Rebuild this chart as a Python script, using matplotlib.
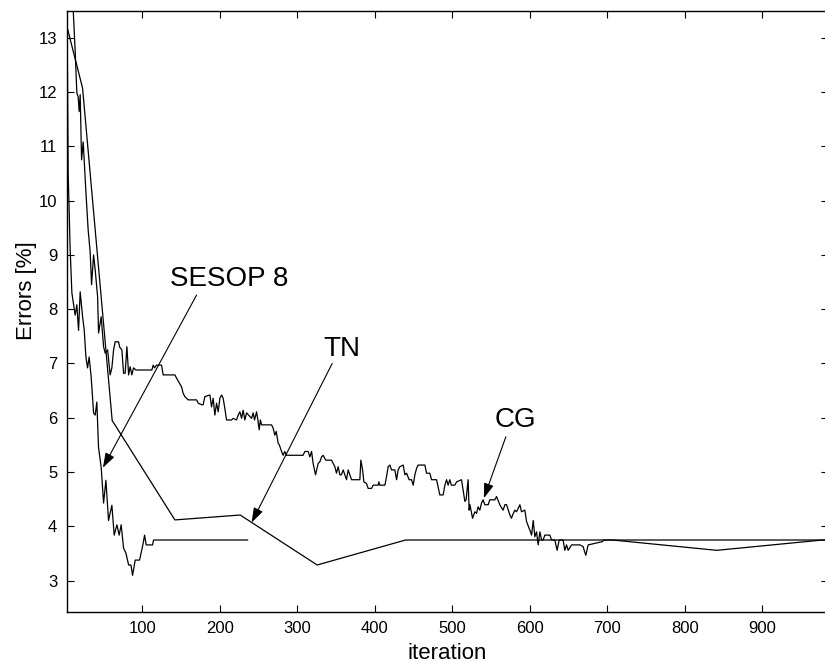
import matplotlib
matplotlib.use("Agg")
import matplotlib.pyplot as plt

plt.rcParams['font.family'] = ['Liberation Sans', 'DejaVu Sans']

# ---------------- data ----------------
sesop_x = [3, 4.5, 7.1, 9.3, 13.5, 15.7, 17.9, 20, 23.1, 25.2, 27.4, 29.5, 31.6, 34.2,
           37.3, 39.4, 41.5, 43.7, 47.1, 50.2, 53.2, 56.6, 60.9, 63.9, 67.4, 70.3, 72.9,
           76, 79, 82.5, 85.5, 87.6, 91, 96.6, 100.9, 103.1, 105.2, 108.3, 113.4, 114.7, 236]
sesop_y = [13.6, 10.5, 9.09, 8.30, 7.89, 8.08, 7.61, 8.32, 7.86, 7.62, 7.12, 6.92, 7.12, 6.75,
           6.09, 6.05, 6.29, 5.45, 5.09, 4.43, 4.85, 4.11, 4.39, 3.84, 4.03, 3.84, 4.03,
           3.60, 3.51, 3.29, 3.29, 3.10, 3.38, 3.38, 3.66, 3.84, 3.66, 3.66, 3.66, 3.75, 3.75]

tn_x = [3, 23.1, 61.3, 142.2, 226.5, 325.8, 439.9, 707, 841.5, 985]
tn_y = [13.2, 12.07, 5.95, 4.12, 4.21, 3.29, 3.75, 3.75, 3.56, 3.76]

cg_x = [10, 13.5, 15.7, 17.4, 18.7, 20, 21.8, 23.9, 27.4, 30.3, 32.9, 34.7, 37.3, 39.4,
        42.5, 43.7, 47.1, 50.2, 52.3, 55.4, 58.7, 60.9, 63.1, 65.2, 69.5, 71, 73.8, 76,
        78, 80.3, 82.5, 84.5, 86.7, 88.9, 91.9, 112.5, 114.2, 116, 118.6, 125, 127.1,
        142.2, 144.4, 150.8, 152.9, 155.1, 159.4, 170.2, 172.3, 176.6, 178.7, 180.9,
        187.4, 189.5, 191.6, 193.8, 196, 198.1, 200.3, 202.5, 204.5, 206.7, 208.9, 215.4,
        217.4, 221.8, 223.9, 226.1, 228.3, 230.3, 232.5, 234.7, 241.2, 243.2, 245, 247.6,
        249, 251, 252.5, 254.1, 267, 269, 271.2, 273, 275.5, 277, 279.9, 281.9, 284, 286,
        288.4, 307.7, 309.9, 314.2, 316.4, 318.6, 320.6, 323.7, 327.1, 329.3, 331.5, 333.5,
        336.9, 344.4, 348.6, 350.8, 352.9, 355.1, 357, 359.4, 361.5, 363.7, 365.8, 368,
        370.2, 380.9, 382.2, 384.4, 386.1, 389.5, 391.6, 396, 398.1, 404.5, 405.4, 406.7,
        413.2, 415.4, 417.4, 419.6, 421.8, 426.1, 428.3, 430.3, 432.5, 436.8, 439, 441.2,
        444.5, 447.6, 449.7, 451.9, 454.1, 456.1, 464.8, 467, 471.2, 473.4, 479.9, 481.9,
        484.1, 488.4, 490.6, 492.8, 494.8, 497, 499, 503.5, 505.7, 512.1, 514.2, 516.4,
        518, 520.6, 521.9, 523, 526.3, 529.3, 531.5, 533.5, 535.7, 537.9, 539.9, 542.2,
        546.5, 548.6, 555.1, 557.3, 559, 561.5, 563, 565.8, 568, 570.2, 574.5, 576.6, 578,
        580.9, 583, 585.2, 587.4, 589.5, 593.8, 596, 600.3, 602.5, 604.6, 606.7, 608.9,
        611, 613.2, 615.4, 617.4, 619.6, 626.1, 628.3, 632.5, 635.5, 638.1, 643.2, 645.4,
        647.6, 649.7, 654.1, 664.8, 669, 671, 672.5, 675.5, 694, 695.7, 985]
cg_y = [13.8, 12.77, 11.98, 11.91, 11.64, 11.95, 10.75, 11.08, 10.16, 9.46, 9.05, 8.45, 9.0, 8.72,
        8.23, 7.56, 7.86, 7.31, 7.19, 7.25, 6.79, 6.92, 7.25, 7.40, 7.40, 7.30, 7.25, 6.82,
        6.82, 7.31, 6.79, 6.94, 6.79, 6.92, 6.88, 6.88, 6.97, 6.92, 6.97, 6.97, 6.79,
        6.79, 6.73, 6.57, 6.45, 6.39, 6.33, 6.33, 6.27, 6.24, 6.24, 6.39,
        6.42, 6.20, 6.36, 6.05, 6.27, 6.11, 6.36, 6.42, 6.36, 6.17, 5.96, 5.96,
        5.99, 5.96, 6.05, 6.11, 5.99, 6.14, 5.96, 6.09, 5.99, 6.09, 5.96, 6.11,
        5.99, 5.78, 5.96, 5.87, 5.87, 5.81, 5.68, 5.75, 5.53, 5.50, 5.38, 5.31, 5.38, 5.31,
        5.31, 5.31, 5.38, 5.38, 5.28, 5.38, 5.16, 4.95, 5.16, 5.19, 5.28, 5.31,
        5.22, 5.22, 5.10, 4.98, 5.10, 4.95, 4.95, 5.04, 4.95, 4.86, 5.04, 4.95,
        4.86, 4.86, 5.22, 5.04, 4.82, 4.79, 4.70, 4.70, 4.76, 4.76, 4.82, 4.76,
        4.76, 4.92, 5.10, 5.13, 5.04, 5.04, 4.86, 5.04, 5.10, 5.13, 4.95, 4.98,
        4.86, 4.86, 4.76, 4.95, 5.07, 5.13, 5.13, 4.98, 4.98, 4.86, 4.86, 4.73,
        4.58, 4.58, 4.76, 4.86, 4.76, 4.86, 4.76, 4.76, 4.82, 4.86, 4.67, 4.46,
        4.49, 4.86, 4.30, 4.40, 4.15, 4.27, 4.24, 4.36, 4.30, 4.43, 4.49, 4.40,
        4.40, 4.49, 4.49, 4.55, 4.49, 4.40, 4.36, 4.30, 4.40, 4.40, 4.21, 4.15, 4.21,
        4.30, 4.27, 4.33, 4.40, 4.27, 4.30, 4.09, 3.93, 3.84, 4.11, 3.81, 3.90,
        3.66, 3.90, 3.75, 3.75, 3.84, 3.84, 3.75, 3.75, 3.56, 3.75, 3.75, 3.56,
        3.66, 3.56, 3.66, 3.66, 3.63, 3.53, 3.47, 3.66, 3.72, 3.75, 3.75]

x_ticks = [100, 200, 300, 400, 500, 600, 700, 800, 900]
y_ticks = [3, 4, 5, 6, 7, 8, 9, 10, 11, 12, 13]

# ---------------- figure ----------------
fig = plt.figure(figsize=(8.25, 6.64), dpi=100)
ax = fig.add_axes([67 / 825, 1 - 611.7 / 664, (828 - 67) / 825, (611.7 - 11) / 664])

lw = 0.9
ax.plot(cg_x, cg_y, color='k', lw=lw)
ax.plot(tn_x, tn_y, color='k', lw=lw)
ax.plot(sesop_x, sesop_y, color='k', lw=lw)

ax.set_xlim(3, 985)
ax.set_ylim(2.43, 13.49)
ax.set_xticks(x_ticks)
ax.set_yticks(y_ticks)
ax.tick_params(direction='in', top=True, right=True, length=5, width=0.8,
               labelsize=12, pad=7)
for s in ax.spines.values():
    s.set_linewidth(1.0)

ax.set_xlabel('iteration', fontsize=16)
ax.xaxis.set_label_coords(0.5, -0.052)
ax.set_ylabel('Errors [%]', fontsize=16)
ax.yaxis.set_label_coords(-0.040, 0.535)

arrow = dict(arrowstyle='-|>,head_length=0.6,head_width=0.2', color='k', lw=0.8,
             mutation_scale=15, shrinkA=0, shrinkB=0)
ax.annotate('', xy=(49.3, 5.08), xytext=(170.2, 8.26), arrowprops=arrow)
ax.text(135.7, 8.56, 'SESOP 8', fontsize=20, ha='left', va='center')
ax.annotate('', xy=(241.2, 4.07), xytext=(345.2, 7.0), arrowprops=arrow)
ax.text(358.3, 7.27, 'TN', fontsize=20, ha='center', va='center')
ax.annotate('', xy=(540.9, 4.52), xytext=(569.3, 5.65), arrowprops=arrow)
ax.text(581.5, 5.96, 'CG', fontsize=20, ha='center', va='center')

fig.savefig('out.png', dpi=100)
